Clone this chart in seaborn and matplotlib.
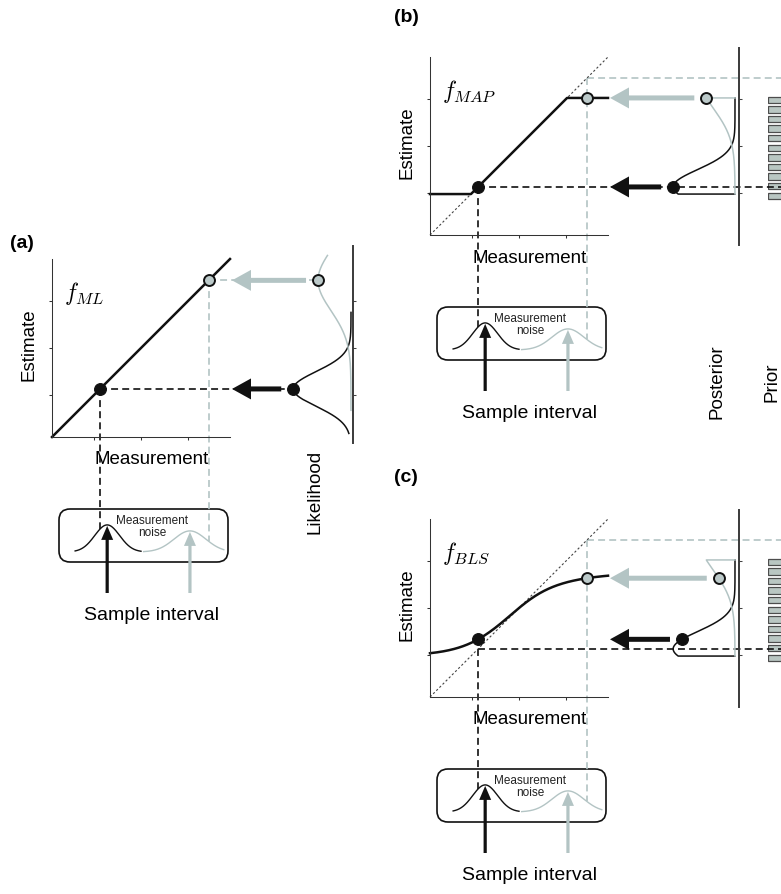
import numpy as np
import matplotlib
matplotlib.use("Agg")
import matplotlib.pyplot as plt
from matplotlib.patches import FancyBboxPatch, FancyArrow
import seaborn as sns

# ------------------------------------------------------------------ data
meas = [0.27, 0.88]            # measurements (black, gray)
samples = [0.31, 0.775]        # sample intervals
noise_sd = [0.07, 0.09]        # width of measurement-noise curves
noise_lo = [0.18, 0.26]        # drawn extent left of sample
noise_hi = [0.19, 0.19]        # drawn extent right of sample
lik_sd0 = 0.065                # likelihood sd at measurement 0
lik_sd_slope = 0.12            # growth of sd with measurement (scalar noise)
prior_lo, prior_hi = 0.23, 0.77
prior_centers = [0.22, 0.274, 0.328, 0.382, 0.436, 0.49, 0.544, 0.598, 0.652, 0.706, 0.76]
prior_height = [1, 1, 1, 1, 1, 1, 1, 1, 1, 1, 1]
ml_x, ml_y = [0.0, 1.0], [0.0, 1.0]
map_x, map_y = [0.0, 0.23, 0.77, 1.0], [0.23, 0.23, 0.77, 0.77]
ident_x, ident_y = [0.0, 1.0], [0.0, 1.0]
axis_ticks = [0.235, 0.5, 0.765]
lik_ranges = [(0.02, 0.70), (0.15, 1.02)]

# ------------------------------------------------------------------ style
plt.rcParams["font.family"] = ["Liberation Sans", "DejaVu Sans"]
plt.rcParams["mathtext.fontset"] = "cm"
plt.rcParams["lines.scale_dashes"] = False

K = "#111111"
G = "#b3c4c4"
GP = "#bccaca"
PRF = "#b9c6c2"
PRE = "#4d4d4d"
DASH = (0, (5, 3))
DOT = (0, (1.6, 1.6))

W, H = 781, 895
S = 178
fig = plt.figure(figsize=(W / 100, H / 100), dpi=100)


def add_px_axes(x0, y0, w, h, z=3):
    ax = fig.add_axes([x0 / W, 1 - (y0 + h) / H, w / W, h / H], zorder=z)
    ax.set_facecolor("none")
    return ax


ov = add_px_axes(0, 0, W, H, z=1)
ov.set_xlim(0, W)
ov.set_ylim(H, 0)
ov.axis("off")


def P(ax, x, y):
    return ov.transData.inverted().transform(ax.transData.transform((x, y)))


def sd_of(m):
    return lik_sd0 + lik_sd_slope * m


def gauss(t, mu, sd):
    t = np.asarray(t, dtype=float)
    return np.exp(-0.5 * ((t - mu) / sd) ** 2) / (sd * np.sqrt(2 * np.pi))


t_prior = np.linspace(prior_lo, prior_hi, 1201)


def bls(m):
    w = gauss(t_prior, m, sd_of(m))
    return float((t_prior * w).sum() / w.sum())


noise_base, noise_amp = 0.19, 0.0357


def noise_y(x, i):
    x = np.asarray(x, dtype=float)
    return noise_base + noise_amp * np.exp(-0.5 * ((x - samples[i]) / noise_sd[i]) ** 2) / noise_sd[i]


def style_main(ax):
    for s in ["top", "right"]:
        ax.spines[s].set_visible(False)
    for s in ["left", "bottom"]:
        ax.spines[s].set_linewidth(0.75)
        ax.spines[s].set_color("#333333")
    ax.set_xticks(axis_ticks)
    ax.set_yticks(axis_ticks)
    ax.set_xticklabels([])
    ax.set_yticklabels([])
    ax.tick_params(direction="out", length=2.5, width=0.75, color="#333333")
    ax.set_xlabel("")
    ax.set_ylabel("")


def style_density(ax):
    for s in ["top", "left", "bottom"]:
        ax.spines[s].set_visible(False)
    ax.spines["right"].set_linewidth(1.4)
    ax.spines["right"].set_color("#3a3a3a")
    ax.yaxis.tick_right()
    ax.set_yticks(axis_ticks)
    ax.set_yticklabels([])
    ax.set_xticks([])
    ax.tick_params(axis="y", direction="out", length=2.5, width=0.75, color="#444444")
    ax.set_xlabel("")
    ax.set_ylabel("")


panels = [
    dict(kind="ML", L=52, T=260, label="(a)", lxy=(22, 243), spine_dx=301,
         top_off=-13, bot_off=184, base_off=2, scale=14.1),
    dict(kind="MAP", L=430, T=58, label="(b)", lxy=(406, 17), spine_dx=309,
         top_off=-9, bot_off=188, base_off=4, scale=15.1),
    dict(kind="BLS", L=430, T=520, label="(c)", lxy=(406, 477), spine_dx=309,
         top_off=-9, bot_off=188, base_off=4, scale=15.1),
]

cols = [K, G]

for pc in panels:
    L, T, kind = pc["L"], pc["T"], pc["kind"]

    # ---------------- main estimator axes
    mx = add_px_axes(L, T, S, S)
    if kind == "ML":
        sns.lineplot(x=ml_x, y=ml_y, ax=mx, color=K, lw=1.8, clip_on=False)
        est = list(meas)
    else:
        sns.lineplot(x=ident_x, y=ident_y, ax=mx, color="#444444", lw=0.8,
                     linestyle=DOT, clip_on=False)
        if kind == "MAP":
            sns.lineplot(x=map_x, y=map_y, ax=mx, color=K, lw=1.8, sort=False,
                         estimator=None, clip_on=False)
            est = [min(max(m, prior_lo), prior_hi) for m in meas]
        else:
            mg = np.linspace(0, 1, 201)
            sns.lineplot(x=mg, y=[bls(m) for m in mg], ax=mx, color=K, lw=1.8,
                         sort=False, estimator=None, clip_on=False)
            est = [bls(m) for m in meas]
    sns.scatterplot(x=[meas[0]], y=[est[0]], ax=mx, color=K, s=72, edgecolor=K,
                    linewidth=0.8, zorder=6, clip_on=False)
    sns.scatterplot(x=[meas[1]], y=[est[1]], ax=mx, color=GP, s=62, edgecolor=K,
                    linewidth=1.4, zorder=6, clip_on=False)
    mx.set_xlim(0, 1)
    mx.set_ylim(0, 1)
    style_main(mx)

    # ---------------- density (likelihood / posterior) axes
    sx = L + pc["spine_dx"]
    DW = 110
    dh = pc["bot_off"] - pc["top_off"]
    dx = add_px_axes(sx - DW, T + pc["top_off"], DW, dh)
    ylo, yhi = (S - pc["bot_off"]) / S, (S - pc["top_off"]) / S
    dpts = []
    for i, m in enumerate(meas):
        sd = sd_of(m)
        if kind == "ML":
            t = np.linspace(lik_ranges[i][0], lik_ranges[i][1], 300)
            d = gauss(t, m, sd)
            xs, ys = d, t
        else:
            t = np.linspace(prior_lo, prior_hi, 300)
            d = gauss(t, m, sd)
            xs = np.concatenate([[0.0], d, [0.0]])
            ys = np.concatenate([[prior_lo], t, [prior_hi]])
        sns.lineplot(x=xs, y=ys, ax=dx, color=cols[i], lw=1.1, sort=False,
                     estimator=None, clip_on=False)
        dpts.append((float(gauss(est[i], m, sd)), est[i]))
    sns.scatterplot(x=[dpts[0][0]], y=[dpts[0][1]], ax=dx, color=K, s=72,
                    edgecolor=K, linewidth=0.8, zorder=6, clip_on=False)
    sns.scatterplot(x=[dpts[1][0]], y=[dpts[1][1]], ax=dx, color=GP, s=62,
                    edgecolor=K, linewidth=1.4, zorder=6, clip_on=False)
    dx.set_ylim(ylo, yhi)
    dx.set_xlim((DW - pc["base_off"]) / pc["scale"], -pc["base_off"] / pc["scale"])
    style_density(dx)

    # ---------------- prior bars
    if kind != "ML":
        pr = add_px_axes(L + 338, T + pc["top_off"], 40, dh, z=0.5)
        sns.barplot(x=prior_height, y=prior_centers, orient="y", native_scale=True,
                    width=0.66, color=PRF, edgecolor=PRE, linewidth=0.9,
                    saturation=1, errorbar=None, ax=pr)
        pr.set_ylim(ylo, yhi)
        pr.set_xlim(0, 1)
        pr.axis("off")

    # ---------------- measurement-noise axes
    nx = add_px_axes(L, T + 250, S, 53)
    for i in range(2):
        xg = np.linspace(samples[i] - noise_lo[i], samples[i] + noise_hi[i], 200)
        sns.lineplot(x=xg, y=noise_y(xg, i), ax=nx, color=cols[i], lw=1.0,
                     sort=False, estimator=None, clip_on=False)
    nx.set_xlim(0, 1)
    nx.set_ylim(0, 1)
    nx.axis("off")

    ov.add_patch(FancyBboxPatch((L + 7, T + 250), 169, 53,
                                boxstyle="round,pad=0,rounding_size=11",
                                fc="none", ec=K, lw=1.2))
    ov.text(L + 100, T + 267, "Measurement\nnoise", fontsize=8.5, color="#222222",
            ha="center", va="center", linespacing=1.05)

    # ---------------- connectors
    for i, m in enumerate(meas):
        c = K if i == 0 else G
        p0 = P(mx, m, m)
        pb = P(nx, m, float(noise_y(m, i)))
        ov.plot([p0[0], pb[0]], [p0[1], pb[1]], color=c, lw=1.2, linestyle=DASH)
        if kind == "ML":
            pe = P(dx, dpts[i][0], dpts[i][1])
            ov.plot([p0[0], pe[0]], [p0[1], pe[1]], color=c, lw=1.2, linestyle=DASH)
        else:
            ov.plot([p0[0], W], [p0[1], p0[1]], color=c, lw=1.2, linestyle=DASH)
        # horizontal arrow from density point to estimator axes
        pd = P(dx, dpts[i][0], dpts[i][1])
        tip = L + S + 2
        start = pd[0] - 12
        ov.add_patch(FancyArrow(start, pd[1], tip - start, 0, width=5, head_width=21,
                                head_length=19, length_includes_head=True,
                                color=c, lw=0, zorder=3))
        # upward sample arrow
        ps = P(nx, samples[i], float(noise_y(samples[i], i)))
        tail = T + 334
        ov.add_patch(FancyArrow(ps[0], tail, 0, ps[1] - tail + 1, width=3.2,
                                head_width=12, head_length=14,
                                length_includes_head=True, color=c, lw=0, zorder=3))

    # ---------------- texts
    ov.text(L - 23, T + 85, "Estimate", rotation=90, fontsize=13.5,
            ha="center", va="center")
    ov.text(L + 100, T + 200, "Measurement", fontsize=13.5, ha="center", va="center")
    ov.text(L + 100, T + 356, "Sample interval", fontsize=14, ha="center", va="center")
    ov.text(L + 12, T + 40, r"$f_{%s}$" % kind, fontsize=17, ha="left", va="baseline")
    ov.text(pc["lxy"][0], pc["lxy"][1], pc["label"], fontsize=14, fontweight="bold",
            ha="center", va="center")
    if kind == "ML":
        ov.text(L + 263, T + 232, "Likelihood", rotation=90, fontsize=13.5,
                ha="center", va="center")
    if kind == "MAP":
        ov.text(L + 287, T + 324, "Posterior", rotation=90, fontsize=13.5,
                ha="center", va="center")
        ov.text(L + 342, T + 324, "Prior", rotation=90, fontsize=13.5,
                ha="center", va="center")

fig.savefig("out.png", dpi=100, facecolor="white")
